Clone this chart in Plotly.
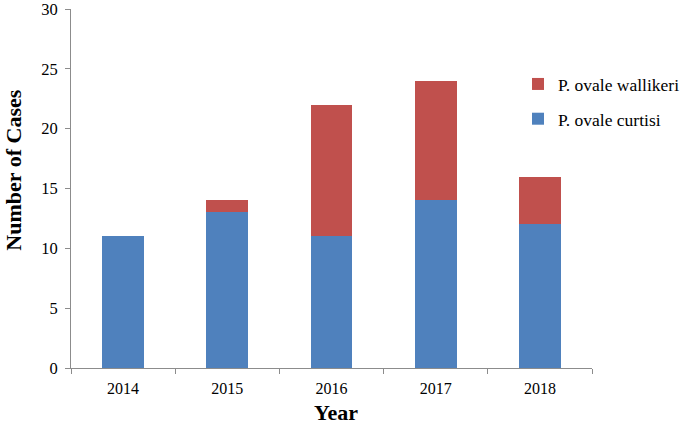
import plotly.graph_objects as go

years = ["2014", "2015", "2016", "2017", "2018"]
curtisi = [11, 13, 11, 14, 12]
wallikeri = [0, 1, 11, 10, 4]
y_ticks = [0, 5, 10, 15, 20, 25, 30]

font_family = "Liberation Serif"

fig = go.Figure()
fig.add_trace(go.Bar(x=years, y=curtisi, name="P. ovale curtisi",
                     marker=dict(color="#4F81BD", line=dict(width=0)),
                     legendgroup="a", legendrank=2))
fig.add_trace(go.Bar(x=years, y=wallikeri, name="P. ovale wallikeri",
                     marker=dict(color="#C0504D", line=dict(width=0)),
                     legendgroup="b", legendrank=1))

fig.update_layout(
    width=685, height=424,
    margin=dict(l=71, r=93, t=9, b=56, autoexpand=False),
    barmode="stack",
    bargap=0.6,
    plot_bgcolor="white", paper_bgcolor="white",
    font=dict(family=font_family, size=16, color="black"),
    showlegend=True,
    legend=dict(x=0.858, y=0.841, xanchor="left", yanchor="top",
                traceorder="grouped", tracegroupgap=9,
                font=dict(size=17.5, family=font_family),
                bgcolor="rgba(0,0,0,0)", itemwidth=30),
    xaxis=dict(showline=True, linecolor="#8c8c8c", linewidth=1,
               ticks="outside", tickson="boundaries", ticklen=5,
               tickcolor="#8c8c8c", showgrid=False,
               ticklabelstandoff=6,
               tickfont=dict(size=16)),
    yaxis=dict(range=[0, 30], tickvals=y_ticks, showline=True,
               linecolor="#8c8c8c", linewidth=1, ticks="outside",
               ticklen=5, tickcolor="#8c8c8c", showgrid=False,
               ticklabelstandoff=4, ticklabeloverflow="allow",
               zeroline=False, tickfont=dict(size=16.5)),
    annotations=[
        dict(text="<b>Number of Cases</b>", textangle=-90, xref="paper",
             yref="paper", x=-0.139, y=0.55, showarrow=False,
             font=dict(size=22, family=font_family), xanchor="left"),
        dict(text="<b>Year</b>", xref="paper", yref="paper",
             x=0.508, y=-0.124, showarrow=False,
             font=dict(size=22, family=font_family), yanchor="middle"),
    ],
)

fig.write_html("out.html", config={"displayModeBar": False},
               post_script="document.body.style.margin='0';")
